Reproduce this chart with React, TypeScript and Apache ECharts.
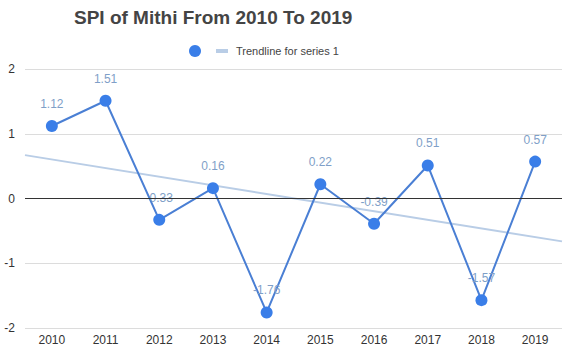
import React, { useEffect, useRef } from "react";
import * as echarts from "echarts";

const years = ["2010", "2011", "2012", "2013", "2014", "2015", "2016", "2017", "2018", "2019"];
const spi = [1.12, 1.51, -0.33, 0.16, -1.76, 0.22, -0.39, 0.51, -1.57, 0.57];
const yTicks = [-2, -1, 0, 1, 2];

function trend(values: number[]) {
  const n = values.length;
  const mx = (n - 1) / 2;
  const my = values.reduce((a, b) => a + b, 0) / n;
  let sxy = 0, sxx = 0;
  values.forEach((v, i) => { sxy += (i - mx) * (v - my); sxx += (i - mx) * (i - mx); });
  const slope = sxy / sxx;
  const at = (x: number) => my + slope * (x - mx);
  return [[-0.5, at(-0.5)], [n - 0.5, at(n - 0.5)]];
}

export default function App() {
  const ref = useRef<HTMLDivElement>(null);
  useEffect(() => {
    if (!ref.current) return;
    const chart = echarts.init(ref.current, null, { renderer: "svg" });
    const font = "'Liberation Sans', Arial, sans-serif";
    chart.setOption({
      animation: false,
      textStyle: { fontFamily: font },
      title: {
        text: "SPI of Mithi From 2010 To 2019",
        left: 69,
        top: 3,
        textStyle: { fontSize: 19, fontWeight: "bold", color: "#444", fontFamily: font },
      },
      legend: {
        top: 40,
        left: 184,
        itemGap: 15,
        itemWidth: 12,
        itemHeight: 12,
        data: [
          { name: "SPI", icon: "circle" },
          { name: "Trendline for series 1", icon: "path://M0,0H12V4H0Z" },
        ],
        formatter: (name: string) => (name === "SPI" ? "" : name),
        textStyle: { fontSize: 11, color: "#444", fontFamily: font, padding: [0, 0, 0, 3] },
      },
      grid: { left: 25, right: 2, top: 69, bottom: 20, containLabel: false },
      xAxis: [
        {
          type: "category",
          data: years,
          boundaryGap: true,
          axisLine: { show: false },
          axisTick: { show: false },
          axisLabel: { color: "#333", fontSize: 12, margin: 6 },
        },
        { type: "value", min: -0.5, max: years.length - 0.5, show: false },
      ],
      yAxis: {
        type: "value",
        min: yTicks[0],
        max: yTicks[yTicks.length - 1],
        interval: 1,
        axisLine: { show: false },
        axisTick: { show: false },
        axisLabel: { color: "#333", fontSize: 12, margin: 10 },
        splitLine: { lineStyle: { color: "#dcdcdc", width: 1 } },
      },
      series: [
        {
          name: "Trendline for series 1",
          type: "line",
          xAxisIndex: 1,
          data: trend(spi),
          symbol: "none",
          lineStyle: { color: "#b9cde6", width: 2 },
          itemStyle: { color: "#b9cde6" },
          silent: true,
          z: 1,
        },
        {
          name: "SPI",
          type: "line",
          data: spi,
          symbol: "circle",
          symbolSize: 12,
          lineStyle: { color: "#4a7fd4", width: 2 },
          itemStyle: { color: "#3a7ee8" },
          label: {
            show: true,
            position: "top",
            distance: 10,
            color: "#7f9fc8",
            fontSize: 12,
            formatter: (p: any) => p.value.toFixed(2),
          },
          markLine: {
            silent: true,
            symbol: "none",
            label: { show: false },
            lineStyle: { color: "#333", width: 1, type: "solid" },
            data: [{ yAxis: 0 }],
          },
          z: 3,
        },
      ],
    });
    return () => chart.dispose();
  }, []);
  return <div ref={ref} style={{ position: "absolute", left: 0, top: 0, width: 564, height: 348 }} />;
}
